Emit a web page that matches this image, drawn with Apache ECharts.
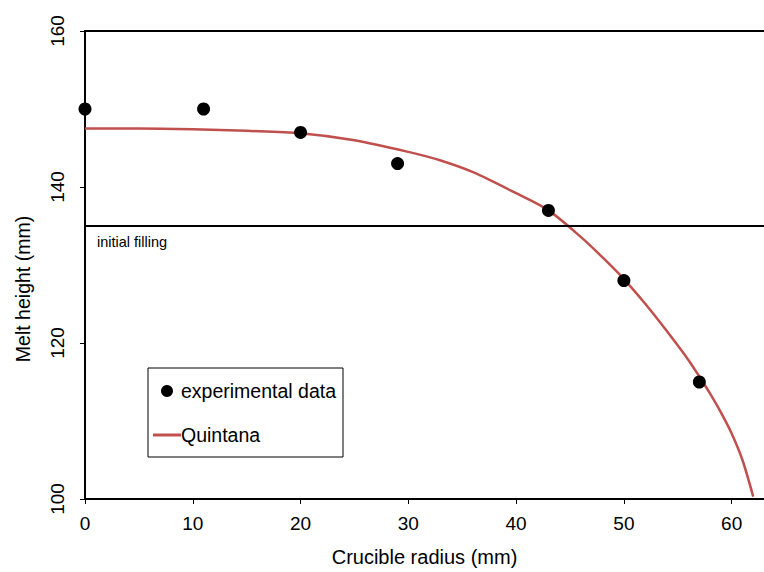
<!DOCTYPE html>
<html>
<head>
<meta charset="utf-8">
<script src="https://cdn.jsdelivr.net/npm/echarts@6/dist/echarts.min.js"></script>
<style>
  html, body { margin: 0; padding: 0; background: #fff; }
  #main { width: 764px; height: 572px; }
</style>
</head>
<body>
<div id="main"></div>
<script>
// measured points
var expRadius = [0, 11, 20, 29, 43, 50, 57];
var expHeight = [150, 150, 147, 143, 137, 128, 115];

// Quintana curve
var quinRadius = [0, 5, 10, 15, 20, 25, 30, 33, 36, 40, 43, 46, 48, 50, 52, 54, 56, 57, 58, 59, 60, 61, 62];
var quinHeight = [147.5, 147.5, 147.4, 147.2, 146.9, 146.0, 144.5, 143.4, 141.9, 139.2, 137.0, 133.6, 131.0, 128.2, 125.0, 121.5, 117.8, 115.7, 113.5, 111.1, 108.4, 105.0, 100.3];

var fillLevel = 135;

var font = 'Liberation Sans, Arial, sans-serif';

var myChart = echarts.init(document.getElementById('main'), null, { renderer: 'svg' });

var option = {
    animation: false,
    backgroundColor: '#fff',
    textStyle: { fontFamily: font },
    grid: { left: 85, top: 31, right: 0, bottom: 70 },
    legend: {
        orient: 'vertical',
        left: 148,
        top: 368,
        padding: [13, 7, 12, 5],
        itemGap: 24,
        itemWidth: 28,
        itemHeight: 12,
        borderColor: '#000',
        borderWidth: 1,
        textStyle: { fontFamily: font, fontSize: 19.5, color: '#000', padding: [0, 0, 0, -5] },
        data: [
            { name: 'experimental data', icon: 'circle', itemStyle: { color: '#000', opacity: 1 } },
            { name: 'Quintana', icon: 'path://M0,0 H28 V3 H0 Z', itemStyle: { color: '#C0504D' } }
        ]
    },
    xAxis: [{
        type: 'value',
        min: 0,
        max: 63,
        interval: 10,
        name: 'Crucible radius (mm)',
        nameLocation: 'middle',
        nameGap: 48,
        nameTextStyle: { fontFamily: font, fontSize: 20, color: '#000' },
        axisLine: { lineStyle: { color: '#000', width: 2 } },
        axisTick: { length: 5, lineStyle: { color: '#000', width: 1 } },
        axisLabel: { fontFamily: font, fontSize: 19, color: '#000', margin: 15, showMaxLabel: false },
        splitLine: { show: false }
    }, {
        type: 'value',
        position: 'top',
        min: 0,
        max: 63,
        axisLine: { show: true, onZero: false, lineStyle: { color: '#000', width: 2 } },
        axisTick: { show: false },
        axisLabel: { show: false },
        splitLine: { show: false }
    }],
    yAxis: {
        type: 'value',
        min: 100,
        max: 160,
        interval: 20,
        name: 'Melt height (mm)',
        nameLocation: 'middle',
        nameGap: 52,
        nameTextStyle: { fontFamily: font, fontSize: 19.5, color: '#000', padding: [0, 48, 0, 0] },
        axisLine: { show: true, lineStyle: { color: '#000', width: 2 } },
        axisTick: { show: true, length: 5, lineStyle: { color: '#000', width: 1 } },
        axisLabel: { fontFamily: font, fontSize: 19, color: '#000', rotate: 90, margin: 18 },
        splitLine: { show: false }
    },
    series: [{
        name: 'experimental data',
        type: 'scatter',
        symbol: 'circle',
        symbolSize: 13,
        itemStyle: { color: '#000', opacity: 1 },
        data: expRadius.map(function (r, i) { return [r, expHeight[i]]; }),
        z: 5,
        markLine: {
            silent: true,
            symbol: 'none',
            lineStyle: { color: '#000', width: 2, type: 'solid' },
            label: {
                show: true,
                position: 'insideStartBottom',
                formatter: 'initial filling',
                fontFamily: font,
                fontSize: 14.5,
                color: '#000',
                distance: [12, 8]
            },
            data: [{ yAxis: fillLevel }]
        }
    }, {
        name: 'Quintana',
        type: 'line',
        symbol: 'none',
        smooth: 0.3,
        lineStyle: { color: '#C0504D', width: 2.5 },
        itemStyle: { color: '#C0504D' },
        data: quinRadius.map(function (r, i) { return [r, quinHeight[i]]; }),
        z: 3
    }]
};

myChart.setOption(option);
</script>
</body>
</html>
